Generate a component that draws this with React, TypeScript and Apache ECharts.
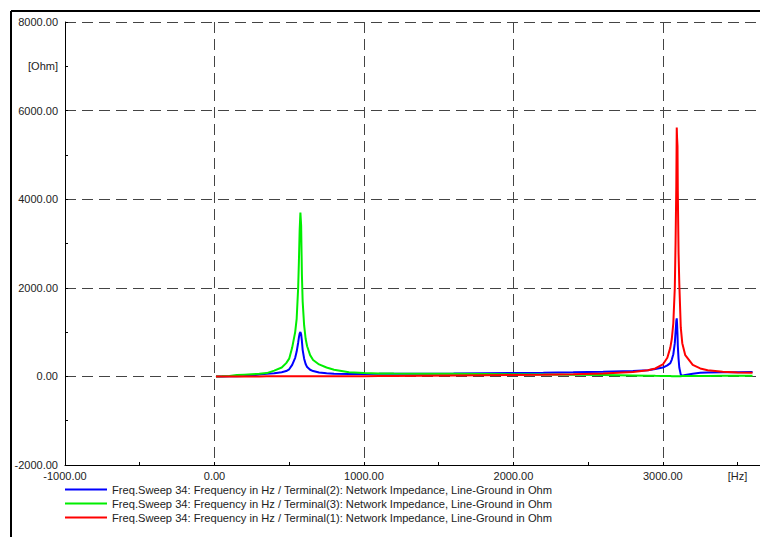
import React, { useEffect, useRef } from "react";
import * as echarts from "echarts";

const freqs = [10, 50, 100, 150, 200, 250, 300, 350, 400, 450, 480, 500, 520, 540, 550, 560, 565, 570, 575, 580, 585, 590, 600, 610, 620, 640, 660, 700, 750, 800, 900, 1000, 1100, 1200, 1400, 1600, 1800, 2000, 2200, 2400, 2600, 2800, 2900, 2950, 3000, 3030, 3050, 3060, 3070, 3080, 3085, 3090, 3093, 3095, 3098, 3100, 3105, 3110, 3120, 3130, 3150, 3200, 3250, 3300, 3400, 3500, 3600];

const terminal2 = [0, 0, 2, 5, 10, 20, 45, 60, 70, 95, 120, 160, 260, 420, 560, 760, 880, 970, 1000, 950, 800, 600, 400, 280, 210, 150, 120, 90, 70, 60, 55, 55, 57, 60, 62, 65, 70, 75, 82, 92, 105, 120, 140, 165, 200, 250, 300, 380, 500, 750, 1000, 1250, 1310, 1200, 950, 700, 400, 200, 40, 15, 30, 60, 80, 88, 92, 95, 98];

const terminal3 = [0, 2, 8, 30, 40, 50, 60, 75, 130, 200, 300, 400, 650, 1000, 1300, 2000, 2600, 3300, 3700, 3400, 2300, 1700, 1150, 850, 680, 480, 370, 270, 200, 150, 95, 75, 68, 65, 62, 60, 55, 50, 45, 40, 30, 20, 15, 12, 10, 8, 7, 6, 5, 4, 3, 2, 2, 2, 2, 3, 4, 5, 6, 7, 8, 9, 10, 10, 12, 14, 15];

const terminal1 = [0, 0, 0, 0, 0, 0, 0, 1, 1, 1, 1, 1, 1, 1, 1, 1, 1, 1, 1, 1, 1, 1, 1, 1, 1, 2, 2, 2, 2, 3, 4, 5, 8, 10, 15, 20, 25, 30, 38, 48, 65, 100, 140, 180, 270, 420, 650, 850, 1200, 2000, 3000, 4300, 5620, 5400, 5200, 4200, 2800, 2100, 1100, 750, 480, 260, 180, 140, 105, 90, 80];

const seriesNames = [
  "Freq.Sweep 34: Frequency in Hz / Terminal(2): Network Impedance, Line-Ground in Ohm",
  "Freq.Sweep 34: Frequency in Hz / Terminal(3): Network Impedance, Line-Ground in Ohm",
  "Freq.Sweep 34: Frequency in Hz / Terminal(1): Network Impedance, Line-Ground in Ohm",
];
const seriesColors = ["#0000ff", "#00ee00", "#ff0000"];
const seriesValues = [terminal2, terminal3, terminal1];

const FONT = "'Liberation Sans', Arial, sans-serif";

export default function App() {
  const ref = useRef<HTMLDivElement>(null);
  useEffect(() => {
    if (!ref.current) return;
    const chart = echarts.init(ref.current, undefined, { renderer: "svg" });
    const gridDash = { color: "#444", type: [11, 6] as any, width: 1 };
    chart.setOption({
      animation: false,
      backgroundColor: "#fff",
      textStyle: { fontFamily: FONT },
      grid: { left: 65, top: 22, width: 696, height: 443, containLabel: false },
      legend: {
        orient: "vertical",
        left: 65,
        top: 483,
        padding: 0,
        icon: "rect",
        itemWidth: 42,
        itemHeight: 2,
        itemGap: 1,
        textStyle: { fontFamily: FONT, fontSize: 11.15, color: "#222", lineHeight: 13 },
        data: seriesNames,
      },
      graphic: [
        { type: "line", shape: { x1: 11, y1: 11, x2: 760, y2: 11 }, style: { stroke: "#000", lineWidth: 2 } },
        { type: "line", shape: { x1: 11, y1: 11, x2: 11, y2: 537 }, style: { stroke: "#000", lineWidth: 2 } },
      ],
      xAxis: [
        {
          type: "value",
          min: -1000,
          max: 3650,
          interval: 500,
          position: "bottom",
          axisLine: { onZero: false, lineStyle: { color: "#000", width: 1 } },
          axisTick: { inside: true, length: 3, lineStyle: { color: "#000" } },
          splitLine: { show: false },
          axisLabel: {
            color: "#222",
            fontSize: 11,
            fontFamily: FONT,
            margin: 5,
            showMaxLabel: false,
            formatter: (v: number) => (v === 3500 ? "[Hz]" : v % 1000 === 0 ? v.toFixed(2) : ""),
          },
        },
        {
          type: "value",
          min: -1000,
          max: 3650,
          interval: 1000,
          position: "bottom",
          axisLine: { show: false, onZero: false },
          axisTick: { show: false },
          axisLabel: { show: false },
          splitLine: { show: true, lineStyle: gridDash },
        },
      ],
      yAxis: [
        {
          type: "value",
          min: -2000,
          max: 8000,
          interval: 1000,
          position: "left",
          axisLine: { show: true, onZero: false, lineStyle: { color: "#000", width: 1 } },
          axisTick: { show: true, inside: true, length: 3, lineStyle: { color: "#000" } },
          splitLine: { show: false },
          axisLabel: {
            color: "#222",
            fontSize: 11,
            fontFamily: FONT,
            margin: 7,
            formatter: (v: number) => (v === 7000 ? "[Ohm]" : v % 2000 === 0 ? v.toFixed(2) : ""),
          },
        },
        {
          type: "value",
          min: -2000,
          max: 8000,
          interval: 2000,
          position: "left",
          axisLine: { show: false, onZero: false },
          axisTick: { show: false },
          axisLabel: { show: false },
          splitLine: { show: true, lineStyle: gridDash },
        },
      ],
      series: seriesNames.map((name, i) => ({
        name,
        type: "line",
        xAxisIndex: 0,
        yAxisIndex: 0,
        showSymbol: false,
        symbol: "none",
        color: seriesColors[i],
        lineStyle: { color: seriesColors[i], width: 2 },
        data: freqs.map((f, j) => [f, seriesValues[i][j]]),
      })),
    });
    return () => chart.dispose();
  }, []);
  return (
    <div
      ref={ref}
      style={{ position: "fixed", left: 0, top: 0, width: 760, height: 537, background: "#fff" }}
    />
  );
}
